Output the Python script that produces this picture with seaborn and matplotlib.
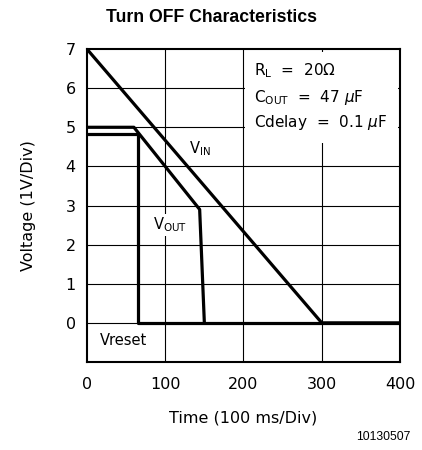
import matplotlib
matplotlib.use("Agg")
import numpy as np
import pandas as pd
import seaborn as sns
import matplotlib.pyplot as plt
from matplotlib.patches import Rectangle

sns.set_style("white")
plt.rcParams['font.family'] = ['DejaVu Sans']
plt.rcParams['mathtext.fontset'] = 'dejavusans'
plt.rcParams['text.color'] = 'black'
plt.rcParams['axes.labelcolor'] = 'black'
plt.rcParams['xtick.color'] = 'black'
plt.rcParams['ytick.color'] = 'black'

# data
t_vin = [0, 300, 400]
v_vin = [7, 0, 0]
t_vout = [0, 60, 144, 150]
v_vout = [5, 5, 2.9, 0]
t_reset = [0, 65, 65, 400]
v_reset = [4.82, 4.82, 0, 0]

x_ticks = [0, 100, 200, 300, 400]
y_ticks = [0, 1, 2, 3, 4, 5, 6, 7]

fig = plt.figure(figsize=(4.22, 4.5), dpi=100)
ax = fig.add_axes([0.206, 0.1956, 0.742, 0.6954])

# grid
for x in x_ticks[1:-1]:
    ax.axvline(x, color='black', lw=0.8, zorder=1)
for y in range(0, 7):
    ax.axhline(y, color='black', lw=0.8, zorder=1)

# white area behind the parameter text
ax.add_patch(Rectangle((202, 4.6), 195, 2.32, facecolor='white', edgecolor='none', zorder=2))

lw = 2.3
sns.lineplot(x=t_vin, y=v_vin, ax=ax, color='black', lw=lw, sort=False, estimator=None, zorder=3)
sns.lineplot(x=t_vout, y=v_vout, ax=ax, color='black', lw=lw, sort=False, estimator=None, zorder=3)
sns.lineplot(x=t_reset, y=v_reset, ax=ax, color='black', lw=lw, sort=False, estimator=None, zorder=3)

ax.set_xlim(0, 400)
ax.set_ylim(-1, 7)
ax.set_xticks(x_ticks)
ax.set_yticks(y_ticks)
ax.tick_params(length=0, labelsize=11.5)
ax.tick_params(axis='x', pad=11)
ax.tick_params(axis='y', pad=8)
for s in ax.spines.values():
    s.set_visible(True)
    s.set_color('black')
    s.set_linewidth(1.5)
    s.set_zorder(5)

lbl = dict(fontsize=10.5, color='black', zorder=4,
           bbox=dict(facecolor='white', edgecolor='none', pad=1))
ax.text(130, 4.45, r'V$_\mathregular{IN}$', ha='left', va='center', **lbl)
ax.text(84, 2.5, r'V$_\mathregular{OUT}$', ha='left', va='center', **lbl)
ax.text(17, -0.45, 'Vreset', ha='left', va='center', **lbl)

ax.text(214, 6.46, r'R$_\mathregular{L}$  =  20$\Omega$', fontsize=11, va='center', zorder=4)
ax.text(214, 5.77, r'C$_\mathregular{OUT}$  =  47 $\mu$F', fontsize=11, va='center', zorder=4)
ax.text(214, 5.13, r'Cdelay  =  0.1 $\mu$F', fontsize=11, va='center', zorder=4)

ax.set_xlabel('Time (100 ms/Div)', fontsize=11.5, labelpad=13)
ax.set_ylabel('Voltage (1V/Div)', fontsize=11.5, labelpad=21)

fig.text(0.5, 0.96, 'Turn OFF Characteristics', ha='center', va='center',
         fontsize=12.7, fontweight='bold', family=['Liberation Sans', 'DejaVu Sans'])
fig.text(0.972, 0.028, '10130507', ha='right', va='center', fontsize=8.7,
         family=['Liberation Sans', 'DejaVu Sans'])

fig.savefig('out.png', dpi=100)
